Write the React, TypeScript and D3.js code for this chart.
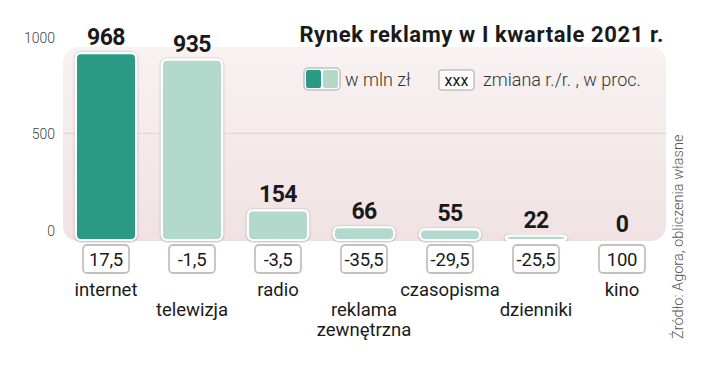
import { useEffect, useRef } from "react";
import * as d3 from "d3";

// data
const categories = ["internet", "telewizja", "radio", "reklama zewnętrzna", "czasopisma", "dzienniki", "kino"];
const labelLines = [["internet"], ["telewizja"], ["radio"], ["reklama", "zewnętrzna"], ["czasopisma"], ["dzienniki"], ["kino"]];
const values = [968, 935, 154, 66, 55, 22, 0];
const changes = ["17,5", "-1,5", "-3,5", "-35,5", "-29,5", "-25,5", "100"];
const yTicks = [0, 500, 1000];

const DARK = "#2a9a85";
const LIGHT = "#b3d8cc";
const FONT = "Roboto, 'Noto Sans', sans-serif";

export default function App() {
  const ref = useRef<SVGSVGElement | null>(null);

  useEffect(() => {
    const svgEl = ref.current;
    if (!svgEl) return;
    const width = 720;
    const height = 375;

    const svg = d3.select(svgEl);
    svg.selectAll("*").remove();
    svg.attr("width", width).attr("height", height).style("background", "#fff");

    const defs = svg.append("defs");
    const grad = defs.append("linearGradient").attr("id", "panel").attr("x1", 0).attr("y1", 0).attr("x2", 0).attr("y2", 1);
    grad.append("stop").attr("offset", "0%").attr("stop-color", "#f8f2f2");
    grad.append("stop").attr("offset", "100%").attr("stop-color", "#f0e2e2");
    const f = defs.append("filter").attr("id", "sh").attr("x", "-20%").attr("y", "-20%").attr("width", "140%").attr("height", "140%");
    f.append("feDropShadow").attr("dx", 0).attr("dy", 0.5).attr("stdDeviation", 1.3)
      .attr("flood-color", "#000").attr("flood-opacity", 0.4);

    // ------- scales -------
    const x = d3.scaleBand<string>().domain(categories).range([63, 665]).paddingInner(0.3).paddingOuter(0.15);
    const y = d3.scaleLinear().domain([0, 1000]).range([240, 47]);
    const axisShift = -9; // tick labels sit a bit above their value line
    const cx = (i: number) => x(categories[i])! + x.bandwidth() / 2;

    // ------- panel -------
    svg.append("rect")
      .attr("x", 63).attr("y", 47).attr("width", 603).attr("height", 194)
      .attr("rx", 15).attr("fill", "url(#panel)");

    // gridline at 500
    svg.append("line")
      .attr("x1", 63).attr("x2", 666)
      .attr("y1", y(500) + axisShift - 1).attr("y2", y(500) + axisShift - 1)
      .attr("stroke", "#e6d4d4").attr("stroke-width", 1.2);

    // y tick labels
    svg.append("g").selectAll("text").data(yTicks).enter().append("text")
      .attr("x", 55).attr("y", (d) => y(d) + axisShift)
      .attr("dy", "0.35em").attr("text-anchor", "end")
      .attr("font-family", FONT).attr("font-weight", 300).attr("font-size", 14)
      .attr("fill", "#444").text((d) => d);

    // ------- bars -------
    const barData = values.map((v, i) => ({ v, i })).filter((d) => d.v > 0);
    svg.append("g").selectAll("rect").data(barData).enter().append("rect")
      .attr("x", (d) => x(categories[d.i])!)
      .attr("y", (d) => y(d.v))
      .attr("width", x.bandwidth())
      .attr("height", (d) => y(0) - y(d.v))
      .attr("rx", 5)
      .attr("fill", (d) => (d.i === 0 ? DARK : LIGHT))
      .attr("stroke", "#fff").attr("stroke-width", 2.2)
      .attr("filter", "url(#sh)");

    // value labels
    svg.append("g").selectAll("text").data(values).enter().append("text")
      .attr("x", (_, i) => cx(i))
      .attr("y", (d) => y(d) - 8)
      .attr("text-anchor", "middle")
      .attr("font-family", FONT).attr("font-weight", 700).attr("font-size", 23)
      .attr("letter-spacing", -0.6)
      .attr("fill", "#1a1a1a").text((d) => d);

    // change boxes
    const boxes = svg.append("g").selectAll("g").data(changes).enter().append("g")
      .attr("transform", (_, i) => `translate(${cx(i)},259)`);
    boxes.append("rect")
      .attr("x", -23).attr("y", -14).attr("width", 46).attr("height", 28).attr("rx", 4)
      .attr("fill", "#fff").attr("stroke", "#c4c0c0").attr("stroke-width", 1.8);
    boxes.append("text")
      .attr("text-anchor", "middle").attr("dy", "0.36em")
      .attr("font-family", FONT).attr("font-size", 18.5).attr("letter-spacing", -0.2)
      .attr("fill", "#1a1a1a").text((d) => d);

    // category labels (alternating rows)
    const cats = svg.append("g").selectAll("text").data(labelLines).enter().append("text")
      .attr("x", (_, i) => cx(i))
      .attr("y", (_, i) => 296 + (i % 2) * 20)
      .attr("text-anchor", "middle")
      .attr("font-family", FONT).attr("font-size", 18.5)
      .attr("fill", "#1a1a1a");
    cats.each(function (lines) {
      const t = d3.select(this);
      lines.forEach((l, k) => {
        t.append("tspan").attr("x", t.attr("x")).attr("dy", k === 0 ? 0 : 20).text(l);
      });
    });

    // ------- title -------
    svg.append("text")
      .attr("x", 664).attr("y", 42).attr("text-anchor", "end")
      .attr("font-family", FONT).attr("font-weight", 700).attr("font-size", 22)
      .attr("letter-spacing", 0.6)
      .attr("fill", "#1a1a1a").text("Rynek reklamy w I kwartale 2021 r.");

    // ------- legend -------
    const lg = svg.append("g");
    lg.append("rect").attr("x", 304).attr("y", 68).attr("width", 36).attr("height", 22).attr("rx", 4)
      .attr("fill", "#fff").attr("stroke", "#c4c0c0").attr("stroke-width", 1.5);
    lg.append("rect").attr("x", 306).attr("y", 70).attr("width", 15).attr("height", 18).attr("rx", 2).attr("fill", DARK);
    lg.append("rect").attr("x", 323).attr("y", 70).attr("width", 15).attr("height", 18).attr("rx", 2).attr("fill", LIGHT);
    lg.append("text").attr("x", 345).attr("y", 80).attr("dy", "0.35em")
      .attr("font-family", FONT).attr("font-weight", 300).attr("font-size", 18)
      .attr("fill", "#333").text("w mln zł");
    lg.append("rect").attr("x", 439).attr("y", 70).attr("width", 35).attr("height", 20).attr("rx", 3)
      .attr("fill", "#fff").attr("stroke", "#c4c0c0").attr("stroke-width", 1.5);
    lg.append("text").attr("x", 456.5).attr("y", 80).attr("dy", "0.36em").attr("text-anchor", "middle")
      .attr("font-family", FONT).attr("font-size", 16).attr("fill", "#1a1a1a").text("xxx");
    lg.append("text").attr("x", 483).attr("y", 80).attr("dy", "0.35em")
      .attr("font-family", FONT).attr("font-weight", 300).attr("font-size", 18)
      .attr("fill", "#333").text("zmiana r./r. , w proc.");

    // ------- source -------
    svg.append("text")
      .attr("transform", "translate(683,339) rotate(-90)")
      .attr("font-family", FONT).attr("font-weight", 300).attr("font-size", 14.5)
      .attr("fill", "#555").text("Źródło: Agora, obliczenia własne");
  }, []);

  return (
    <div style={{ position: "absolute", left: 0, top: 0 }}>
      <svg ref={ref} style={{ display: "block" }} />
    </div>
  );
}
